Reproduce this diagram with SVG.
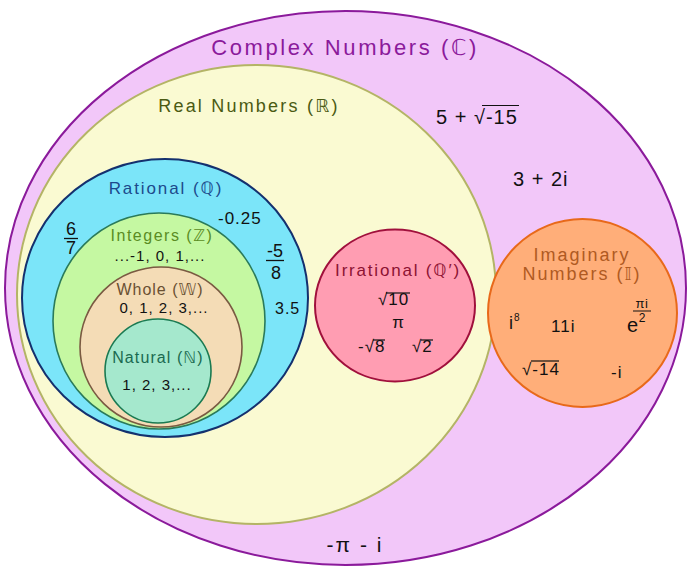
<svg xmlns="http://www.w3.org/2000/svg" width="694" height="575" viewBox="0 0 694 575">
<style>
text{font-family:"Liberation Sans","DejaVu Sans",sans-serif;fill:#111}
.lbl{text-anchor:middle}
.n{font-size:17px;letter-spacing:1px}
.big{font-size:20px;letter-spacing:1px}
.ov{stroke:#111;stroke-width:1.2}
.fr{stroke:#111;stroke-width:1.3}
</style>
<rect width="694" height="575" fill="#ffffff"/>
<g id="complex">
<ellipse cx="345.5" cy="288" rx="340.5" ry="277" fill="#f2c7f9" stroke="#8b1a9b" stroke-width="2"/>
<text class="lbl" x="345" y="55" style="font-size:22px;letter-spacing:2.6px;fill:#8b1a9b">Complex Numbers (ℂ)</text>
<text class="big" x="436" y="124">5 + √-15</text>
<line class="ov" x1="482" y1="105.5" x2="519" y2="105.5"/>
<text class="big" x="513" y="186">3 + 2i</text>
<text class="lbl" x="355" y="552" style="font-size:21px;letter-spacing:2px">-π - i</text>
</g>
<g id="real">
<ellipse cx="256.5" cy="294.5" rx="239.5" ry="229.5" fill="#fafad2" stroke="#b4b466" stroke-width="2"/>
<text class="lbl" x="249" y="112" style="font-size:18px;letter-spacing:2.2px;fill:#4a5a12">Real Numbers (ℝ)</text>
</g>
<g id="rational">
<ellipse cx="165" cy="298" rx="143" ry="139" fill="#7be5f9" stroke="#14306e" stroke-width="2"/>
<text class="lbl" x="166" y="194" style="font-size:17px;letter-spacing:1.9px;fill:#1c4a8c">Rational (ℚ)</text>
<text class="n" x="218" y="224">-0.25</text>
<text class="lbl" x="71" y="235" style="font-size:18px">6</text>
<line class="fr" x1="64" y1="238.5" x2="78" y2="238.5"/>
<text class="lbl" x="71" y="254" style="font-size:18px">7</text>
<text class="lbl" x="275" y="257" style="font-size:18px">-5</text>
<line class="fr" x1="266" y1="260.5" x2="284" y2="260.5"/>
<text class="lbl" x="276" y="279" style="font-size:18px">8</text>
<text class="n" x="275" y="314" style="font-size:16px">3.5</text>
</g>
<g id="integers">
<ellipse cx="159" cy="321" rx="106" ry="108" fill="#c5f8a2" stroke="#2a7a5a" stroke-width="1.6"/>
<text class="lbl" x="162" y="241" style="font-size:16px;letter-spacing:1.5px;fill:#5a8c22">Integers (ℤ)</text>
<text class="lbl" x="160" y="261" style="font-size:15px;letter-spacing:1px">...-1, 0, 1,...</text>
</g>
<g id="whole">
<ellipse cx="161" cy="347" rx="81" ry="80" fill="#f4dcb6" stroke="#7a5a42" stroke-width="1.6"/>
<text class="lbl" x="160" y="295" style="font-size:16px;letter-spacing:1px;fill:#6a5032">Whole (𝕎)</text>
<text class="lbl" x="164" y="313" style="font-size:15px;letter-spacing:1px">0, 1, 2, 3,...</text>
</g>
<g id="natural">
<ellipse cx="158" cy="371" rx="53" ry="52" fill="#a5e8cd" stroke="#1a7a52" stroke-width="1.6"/>
<text class="lbl" x="158" y="363" style="font-size:16px;letter-spacing:1.1px;fill:#1a6a50">Natural (ℕ)</text>
<text class="lbl" x="157" y="390" style="font-size:15px;letter-spacing:1px">1, 2, 3,...</text>
</g>
<g id="irrational">
<ellipse cx="395" cy="305.5" rx="80" ry="76" fill="#ff9db2" stroke="#a0103c" stroke-width="2"/>
<text class="lbl" x="398" y="276" style="font-size:17px;letter-spacing:1.8px;fill:#8c1232">Irrational (ℚ′)</text>
<text class="n" x="378" y="305">√10</text>
<line class="ov" x1="386" y1="293" x2="410" y2="293"/>
<text class="lbl" x="398" y="328" style="font-size:17px">π</text>
<text class="n" x="358" y="352">-√8</text>
<line class="ov" x1="373" y1="340" x2="385" y2="340"/>
<text class="n" x="412" y="352">√2</text>
<line class="ov" x1="421" y1="340" x2="433" y2="340"/>
</g>
<g id="imaginary">
<ellipse cx="582.5" cy="313" rx="94.5" ry="94" fill="#ffae79" stroke="#e8691a" stroke-width="2"/>
<text class="lbl" x="582" y="261" style="font-size:18px;letter-spacing:2px;fill:#b05a22">Imaginary</text>
<text class="lbl" x="582" y="280" style="font-size:18px;letter-spacing:2px;fill:#b05a22">Numbers (𝕀)</text>
<text x="509" y="329" style="font-size:18px">i</text>
<text x="514" y="321" style="font-size:10px">8</text>
<text class="n" x="551" y="332">11i</text>
<text x="627" y="332" style="font-size:20px">e</text>
<text class="lbl" x="642" y="308" style="font-size:13px;letter-spacing:0.5px">πi</text>
<line class="fr" x1="633" y1="311" x2="651" y2="311" style="stroke-width:1"/>
<text class="lbl" x="642" y="322" style="font-size:12px">2</text>
<text class="n" x="522" y="375">√-14</text>
<line class="ov" x1="531" y1="361" x2="559" y2="361"/>
<text class="n" x="611" y="378">-i</text>
</g>
<g id="connectors"/>
</svg>
